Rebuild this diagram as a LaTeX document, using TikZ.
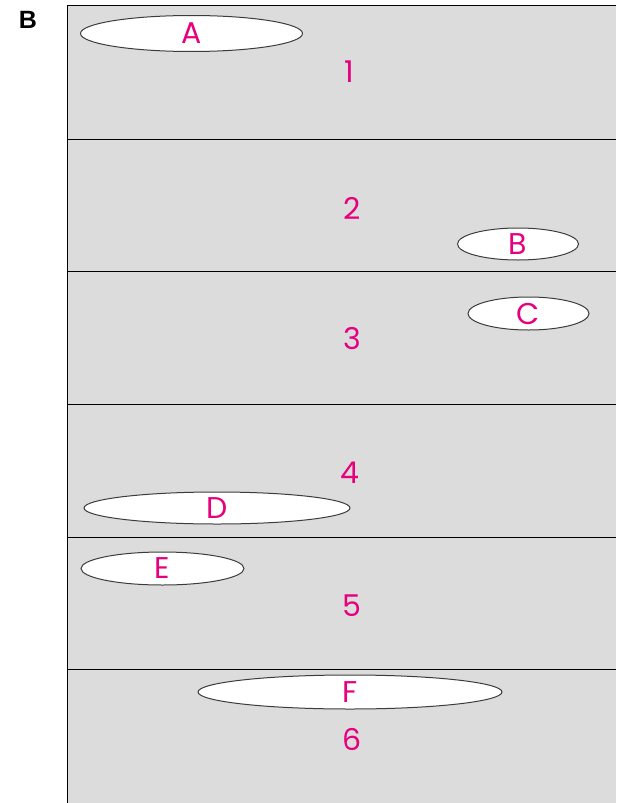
\documentclass[tikz,border=0pt]{standalone}
\usepackage{fontspec}
\setmainfont{Poppins}
\newfontfamily\panelfont{Liberation Sans}
\usepackage{tikz}
\usetikzlibrary{shapes.geometric}
\definecolor{panelgray}{RGB}{220,220,220}
\definecolor{hotpink}{RGB}{230,0,126}
\definecolor{rimgray}{RGB}{60,60,60}
\begin{document}
\begin{tikzpicture}[
x=1pt,y=-1pt,
blob/.style={ellipse,draw=rimgray,line width=1pt,fill=white,inner sep=0pt,
  label={[text=hotpink,font=\fontsize{30}{30}\selectfont,inner sep=0pt]center:#1}},
rownum/.style={text=hotpink,font=\fontsize{30}{30}\selectfont,inner sep=0pt}
]
\useasboundingbox (0,0) rectangle (616,803);
\fill[panelgray] (67,5) rectangle (616,803);
\draw[line width=1pt] (616,5) -- (67,5) -- (67,803);
\foreach \yy in {139,271.5,404,537.5,669}
  \draw[line width=0.9pt] (67,\yy) -- (616,\yy);
\node[font=\panelfont\bfseries\fontsize{25}{25}\selectfont,inner sep=0pt] (tag) at (28,19.5) {B};
% layers
\node[rownum] (n1) at (349,72) {1};
\node[rownum] (n2) at (352,208) {2};
\node[rownum] (n3) at (352,339) {3};
\node[rownum] (n4) at (350,473) {4};
\node[rownum] (n5) at (352,606) {5};
\node[rownum] (n6) at (352,739) {6};
% ellipses
\node[blob=A,minimum width=222pt,minimum height=36pt] (a) at (191.5,33.5) {};
\node[blob=B,minimum width=121pt,minimum height=32pt] (b) at (518,244) {};
\node[blob=C,minimum width=121pt,minimum height=33pt] (c) at (528.5,313.5) {};
\node[blob=D,minimum width=266pt,minimum height=32pt] (d) at (217,508) {};
\node[blob=E,minimum width=163pt,minimum height=33pt] (e) at (162.5,568.5) {};
\node[blob=F,minimum width=304pt,minimum height=34pt] (f) at (350,692) {};
\end{tikzpicture}
\end{document}
